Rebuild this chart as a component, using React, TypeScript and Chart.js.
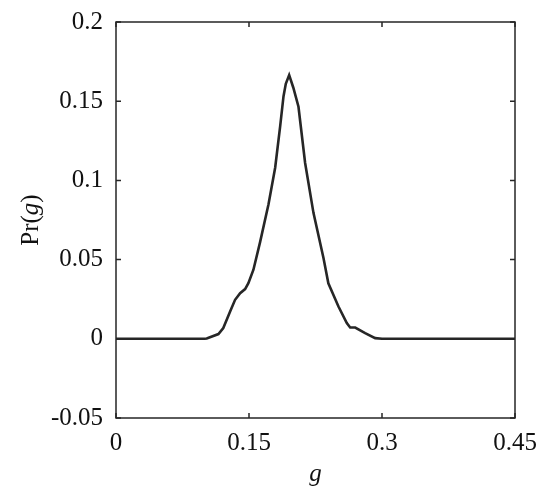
import React, { useEffect, useRef } from 'react';
import { Chart, registerables } from 'chart.js';

Chart.register(...registerables);

const gValues = [0, 0.1, 0.1023, 0.1155, 0.121, 0.1287, 0.1343, 0.14, 0.1456, 0.1493, 0.155, 0.1625, 0.172, 0.1795, 0.1851, 0.1889, 0.1915, 0.1953, 0.2, 0.2058, 0.2133, 0.2227, 0.234, 0.2395, 0.2509, 0.2603, 0.2641, 0.2698, 0.281, 0.2923, 0.3, 0.45];
const prValues = [0, 0, 0.0002, 0.003, 0.0068, 0.0173, 0.0246, 0.0288, 0.0314, 0.0351, 0.0436, 0.061, 0.085, 0.108, 0.134, 0.153, 0.161, 0.1665, 0.1585, 0.1465, 0.111, 0.0795, 0.051, 0.035, 0.0204, 0.0099, 0.0071, 0.0071, 0.0036, 0.0004, 0, 0];

const xTickValues = [0, 0.15, 0.3, 0.45];
const xTickLabels = ['0', '0.15', '0.3', '0.45'];
const yTickValues = [-0.05, 0, 0.05, 0.1, 0.15, 0.2];
const yTickLabels = ['-0.05', '0', '0.05', '0.1', '0.15', '0.2'];

const INK = '#262626';
const FONT = '"Liberation Serif", "DejaVu Serif", serif';

const framePlugin = {
  id: 'framePlugin',
  afterDraw(chart: any) {
    const { ctx, chartArea: a, scales } = chart;
    const xs = scales.x;
    const ys = scales.y;
    ctx.save();
    ctx.strokeStyle = INK;
    ctx.lineWidth = 1.5;
    ctx.strokeRect(a.left, a.top, a.right - a.left, a.bottom - a.top);
    const tl = 5;
    ctx.beginPath();
    xTickValues.forEach((v) => {
      const px = xs.getPixelForValue(v);
      ctx.moveTo(px, a.bottom);
      ctx.lineTo(px, a.bottom - tl);
      ctx.moveTo(px, a.top);
      ctx.lineTo(px, a.top + tl);
    });
    yTickValues.forEach((v) => {
      const py = ys.getPixelForValue(v);
      ctx.moveTo(a.left, py);
      ctx.lineTo(a.left + tl, py);
      ctx.moveTo(a.right, py);
      ctx.lineTo(a.right - tl, py);
    });
    ctx.stroke();

    // x title: italic g
    ctx.fillStyle = '#111';
    ctx.textAlign = 'center';
    ctx.textBaseline = 'middle';
    ctx.font = `italic 25px ${FONT}`;
    ctx.fillText('g', (a.left + a.right) / 2, 474);

    // y title: Pr(g) rotated
    ctx.translate(31, (a.top + a.bottom) / 2);
    ctx.rotate(-Math.PI / 2);
    const parts = [
      { t: 'Pr(', f: `25px ${FONT}` },
      { t: 'g', f: `italic 25px ${FONT}` },
      { t: ')', f: `25px ${FONT}` },
    ];
    let total = 0;
    parts.forEach((p) => {
      ctx.font = p.f;
      total += ctx.measureText(p.t).width;
    });
    let x0 = -total / 2;
    ctx.textAlign = 'left';
    parts.forEach((p) => {
      ctx.font = p.f;
      ctx.fillText(p.t, x0, 0);
      x0 += ctx.measureText(p.t).width;
    });
    ctx.restore();
  },
};

export default function App() {
  const ref = useRef<HTMLCanvasElement | null>(null);
  useEffect(() => {
    if (!ref.current) return;
    const chart = new Chart(ref.current, {
      type: 'line',
      data: {
        datasets: [
          {
            data: gValues.map((g, i) => ({ x: g, y: prValues[i] })),
            borderColor: INK,
            borderWidth: 2.6,
            pointRadius: 0,
            tension: 0,
            fill: false,
          },
        ],
      },
      options: {
        animation: false,
        responsive: false,
        maintainAspectRatio: false,
        layout: { padding: { top: 22, right: 35, left: 0, bottom: 0 } },
        plugins: { legend: { display: false }, tooltip: { enabled: false } },
        scales: {
          x: {
            type: 'linear',
            min: 0,
            max: 0.45,
            grid: { display: false, drawTicks: false },
            border: { display: false },
            afterBuildTicks: (s: any) => {
              s.ticks = xTickValues.map((v) => ({ value: v }));
            },
            afterFit: (s: any) => {
              s.height = 84;
              s.paddingLeft = 0;
              s.paddingRight = 0;
            },
            ticks: {
              autoSkip: false,
              maxRotation: 0,
              padding: 10,
              color: '#111',
              font: { family: FONT, size: 25 },
              callback: (v: any) => {
                const i = xTickValues.findIndex((t) => Math.abs(t - Number(v)) < 1e-9);
                return i >= 0 ? xTickLabels[i] : '';
              },
            },
          },
          y: {
            type: 'linear',
            min: -0.05,
            max: 0.2,
            grid: { display: false, drawTicks: false },
            border: { display: false },
            afterBuildTicks: (s: any) => {
              s.ticks = yTickValues.map((v) => ({ value: v }));
            },
            afterFit: (s: any) => {
              s.width = 116;
              s.paddingTop = 0;
              s.paddingBottom = 0;
            },
            ticks: {
              autoSkip: false,
              padding: 13,
              color: '#111',
              font: { family: FONT, size: 25 },
              callback: (v: any) => {
                const i = yTickValues.findIndex((t) => Math.abs(t - Number(v)) < 1e-9);
                return i >= 0 ? yTickLabels[i] : '';
              },
            },
          },
        },
      },
      plugins: [framePlugin],
    });
    return () => chart.destroy();
  }, []);
  return (
    <div style={{ position: 'fixed', left: 0, top: 0, width: 550, height: 502, background: '#fff' }}>
      <canvas ref={ref} width={550} height={502} style={{ width: 550, height: 502 }} />
    </div>
  );
}
